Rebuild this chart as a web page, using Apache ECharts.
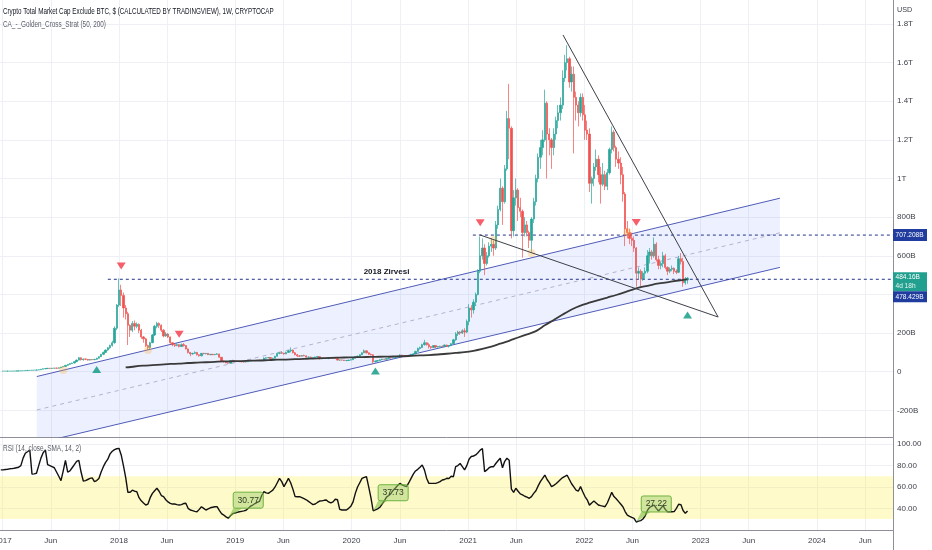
<!DOCTYPE html>
<html><head><meta charset="utf-8">
<script src="https://cdn.jsdelivr.net/npm/echarts@6/dist/echarts.min.js"></script>
<style>html,body{margin:0;padding:0;background:#fff;overflow:hidden}#c{width:932px;height:550px}</style>
</head><body><div id="c"></div><script>
// ---------- DATA (values in billions USD, weekly candles [open, close, low, high]) ----------
const firstWeek = '2017-01-02';
const candles2017 = [[3,3,2,3],[3,3,3,3],[3,3,3,4],[3,3,3,3],[3,3,3,4],[3,4,3,4],[4,4,4,4],[4,4,4,5],[4,5,4,5],[5,5,5,6],
[5,6,5,7],[6,7,6,8],[7,7,6,8],[7,8,7,9],[8,8,7,9],[8,9,8,10],[9,10,9,11],[10,13,10,14],[13,15,13,16],[15,16,14,17],
[16,18,15,19],[18,17,15,19],[17,18,16,19],[18,19,17,20],[19,18,16,20],[18,20,17,21],[20,24,19,25],[24,27,23,28],[27,33,26,34],[33,38,31,39],
[38,42,36,44],[42,45,40,47],[45,52,43,54],[52,60,50,63],[60,72,58,76],[72,62,58,74],[62,66,57,68],[66,64,60,68],[64,60,57,66],[60,63,58,65],
[63,62,59,65],[62,64,60,66],[64,70,62,72],[70,78,68,80],[78,90,76,92],[90,100,86,104],[100,112,97,115],[112,124,108,128],[124,136,118,140],[136,150,130,160],
[150,225,145,235],[225,345,215,350]];
const candles2018 = [[345,423,335,483],[423,395,340,450],[395,330,280,410],[330,300,270,345],[300,240,138,310],[240,215,180,245],[215,250,205,262],[250,235,215,265],[235,245,225,255],[245,215,200,250],
[215,180,170,222],[180,170,150,185],[170,135,128,175],[135,125,112,140],[125,150,118,155],[150,190,148,195],[190,235,185,242],[235,250,225,258],[250,240,225,255],[240,215,205,245],
[215,185,178,220],[185,195,180,205],[195,180,175,200],[180,150,145,182],[150,140,132,152],[140,135,128,145],[135,140,132,148],[140,130,126,144],[130,140,128,146],[140,135,130,148],
[135,118,115,138],[118,100,95,120],[100,92,80,102],[92,95,88,98],[95,100,92,105],[100,88,84,102],[88,82,78,90],[82,95,80,97],[95,93,90,98],[93,95,90,97],
[95,88,86,96],[88,90,86,92],[90,88,86,91],[88,90,86,92],[90,92,88,96],[92,75,72,93],[75,55,50,76],[55,52,47,58],[52,46,44,53],[46,44,42,48],
[44,58,43,60],[58,55,52,62]];
const candles2019 = [[55,54,50,58],[54,52,50,56],[52,53,50,55],[53,51,49,54],[51,50,47,52],[50,52,49,53],[52,55,51,56],[55,58,54,62],[58,57,55,59],[57,58,55,59],
[58,59,57,60],[59,58,57,61],[58,60,57,61],[60,70,59,74],[70,72,68,75],[72,73,70,75],[73,68,65,74],[68,70,67,72],[70,80,69,82],[80,95,78,100],
[95,98,90,100],[98,96,92,104],[96,92,88,98],[92,100,91,104],[100,108,98,112],[108,112,100,126],[112,98,95,115],[98,88,85,102],[88,82,76,92],[82,80,78,86],
[80,84,79,86],[84,82,80,88],[82,75,72,84],[75,76,73,78],[76,72,70,78],[72,74,71,76],[74,76,73,78],[76,78,74,80],[78,66,64,79],[66,68,65,70],
[68,70,66,72],[70,68,66,71],[68,72,65,76],[72,70,68,74],[70,71,69,73],[71,68,66,72],[68,60,58,69],[60,61,56,62],[61,60,58,62],[60,58,56,61],
[58,58,54,60],[58,60,57,62]];
const candles2020 = [[60,62,59,64],[62,70,61,72],[70,78,69,80],[78,80,76,84],[80,88,78,90],[88,98,86,100],[98,108,96,115],[108,98,94,110],[98,90,86,100],[90,88,84,94],
[88,52,42,89],[52,55,48,58],[55,58,53,60],[58,62,56,64],[62,65,60,68],[65,64,62,67],[64,68,63,70],[68,75,66,78],[75,72,68,77],[72,74,70,76],
[74,76,72,78],[76,80,74,82],[80,86,79,90],[86,84,82,88],[84,82,80,86],[82,80,78,84],[80,82,79,84],[82,90,81,92],[90,92,88,94],[92,105,91,108],
[105,120,103,125],[120,125,115,130],[125,140,122,145],[140,150,135,165],[150,140,135,152],[140,130,120,148],[130,125,118,132],[125,135,123,138],[135,128,122,137],[128,130,125,133],
[130,132,127,134],[132,130,128,136],[130,138,128,141],[138,132,128,140],[132,135,125,138],[135,145,132,148],[145,165,142,170],[165,195,160,205],[195,205,185,212],[205,200,190,210],
[200,212,195,220],[212,205,180,225],[205,260,200,270]];
const candles2021 = [[260,330,240,350],[330,320,280,345],[320,360,300,375],[360,400,340,410],[400,520,395,530],[520,600,510,700],[600,640,580,690],[640,560,500,660],[560,600,550,620],[600,650,590,670],
[650,660,620,690],[660,640,600,680],[640,760,630,780],[760,840,740,860],[840,950,830,1000],[950,880,760,960],[880,1050,870,1070],[1050,1310,1040,1350],[1310,1260,1100,1490],[1260,730,690,1270],
[730,900,700,940],[900,940,860,1000],[940,850,780,950],[850,830,800,900],[830,720,590,840],[720,760,700,800],[760,720,700,780],[720,680,640,730],[680,790,620,800],[790,880,770,900],
[880,1000,860,1020],[1000,1110,980,1130],[1110,1160,1050,1200],[1160,1200,1120,1250],[1200,1390,1190,1460],[1390,1230,1000,1400],[1230,1200,1120,1260],[1200,1160,1050,1210],[1160,1230,1120,1260],[1230,1300,1200,1320],
[1300,1340,1260,1380],[1340,1380,1300,1420],[1380,1520,1360,1560],[1520,1600,1500,1640],[1600,1620,1560,1690],[1620,1500,1470,1630],[1500,1540,1450,1580],[1540,1420,1130,1580],[1420,1380,1300,1450],[1380,1340,1270,1400],
[1340,1420,1320,1440],[1420,1330,1300,1440]];
const candles2022 = [[1330,1250,1200,1380],[1250,1230,1200,1300],[1230,975,930,1260],[975,1000,870,1010],[1000,1060,960,1080],[1060,1100,1040,1150],[1100,1020,980,1120],[1020,970,870,1060],[970,1020,960,1080],[1020,960,940,1040],
[960,1030,940,1050],[1030,1150,1020,1160],[1150,1240,1130,1270],[1240,1160,1140,1250],[1160,1100,1060,1170],[1100,1080,1050,1140],[1080,1020,970,1110],[1020,920,880,1060],[920,740,650,930],[740,720,690,780],
[720,690,660,740],[690,680,650,720],[680,640,620,700],[640,510,440,645],[510,520,480,540],[520,480,440,530],[480,510,470,520],[510,520,480,540],[520,600,510,630],[600,620,560,640],
[620,600,580,630],[600,660,590,695],[660,580,570,670],[580,550,530,600],[550,560,530,570],[560,600,540,620],[600,540,530,610],[540,520,500,545],[520,530,510,540],[530,535,520,550],
[535,520,505,540],[520,515,505,530],[515,585,510,600],[585,570,555,614],[570,460,440,590],[460,475,450,490],[475,484,455,490]];

// strategy moving average (black line), one value every 4 weeks starting at week 55
const maStartWeek = 55;
const maStepWeeks = 4;
const maValues = [22,27,31,34,37,40,42,45,47,49,51,53,54,55,57,58,60,62,63,65,66,68,70,72,73,74,75,76,77,78,79,80,
82,84,86,89,93,97,101,108,118,130,145,160,177,193,210,240,268,296,322,342,357,371,384,397,412,428,440,450,458,465,472,478];

// weekly RSI starting the week of 2016-12-26
const rsiFirstWeek = '2016-12-26';
const rsiValues = [76,76,76.3,76.6,77,77.2,77.5,78,78.5,80,
87,91.6,93,94.7,72,72.3,72.8,80,87,92,
94.7,81,80,79,78,74,70,66,75,85,
74,75,78,81,84,85,74,65.6,66,67,
68,68.5,65,66,68,74,79,83,86,91,
93.5,95,95.8,96.2,90,80,69,55,55,57,
56,55.6,50,47,45,43.1,44,50,54,56.5,
58.8,56,52,50.9,48,46,44.7,44,44,43.5,
43.1,43.5,44.5,44.7,40,38.4,37.8,37.2,36.8,39,
41.5,40,38.4,39.5,40.5,41,41.5,41.5,38,35,
33.7,32,30.77,33,35,35.6,36.2,36.8,37.2,37.6,
38.2,40,42,43.1,44.5,45.5,46.5,52,55.6,54.5,
54,55.5,57,60,64,68,65,60.3,64,68,
64,58,51,50.9,50.9,50,49,48,46.5,45,
43.5,44,45.5,46.8,47,47.5,47.8,46,45,46,
48.5,48,39,38.4,38.4,38.4,40,42,46,54,
60,64,68,69,69.6,60,50,37.73,38.5,39.5,
41,44,47,50.5,52,54,57,59,61.5,63.3,
62,61,60.3,64,68,72,75,76.5,78.5,80.6,
76,68,63.4,63.4,63.4,63.4,64,65,66.5,67,
68.1,68,70,69.6,79,80,82,79,76,80,
86,88.5,89,90,92,94.5,96,74.3,76,78,
79,79,82,84.5,86.9,78,84,86.9,85,58,
55,58.8,56,53.5,52.5,51.3,50.5,49.4,51,54,
56.5,61,65,68,71.2,67,64,60.3,61.5,63,
65,67,68.8,70,71,67,63,60,57,56,
60.3,55.5,51,48,43,45,46.8,45,43.1,42.5,
42,41.5,45,50,55,51,49,46.5,44,41.5,
37,33.7,32.5,31.5,30.6,27.22,28,28.5,30,33,
38,41,42,43,40,37.5,40,42.5,39,36.8,
36.8,36.8,37,40,43.8,43.5,38,35.3,37.5];

// drawings
const channelUpper = [['2017-04-18', -25], ['2023-09-07', 898]];
const channelLower = [['2017-04-18', -371], ['2023-09-07', 540]];
const channelMid   = [['2017-04-18', -198], ['2023-09-07', 719]];
const triLineA = [['2021-10-26', 1743], ['2023-02-25', 283]];
const triLineB = [['2021-02-07', 708], ['2023-02-25', 283]];
const peakLevel = 478.429, peakLevelStart = '2017-11-27';
const topLevel = 707.208, topLevelStart = '2021-01-16';
const lastPrice = 484.16;
const buySignals = [['2017-10-23', 12], ['2020-03-16', 4], ['2022-11-21', 293]];
const sellSignals = [['2018-01-08', 547], ['2018-07-09', 194], ['2021-02-08', 771], ['2022-06-13', 772]];
const exitDots = [['2017-07-10', 9], ['2018-04-02', 112], ['2021-03-22', 682], ['2021-07-19', 614], ['2022-05-16', 723]];
const rsiCallouts = [['2018-12-10', 30.77, '30.77'], ['2020-03-09', 37.73, '37.73'], ['2022-06-13', 27.22, '27.22']];
const priceTicks = [-200, 0, 200, 400, 600, 800, 1000, 1200, 1400, 1600, 1800];
const rsiTicks = [40, 60, 80, 100];
const yearTicks = [2017, 2018, 2019, 2020, 2021, 2022, 2023, 2024];
const junTicks = [2017, 2018, 2019, 2020, 2021, 2022, 2023, 2024];
const peakLabel = ['2020-04-20', 516, '2018 Zirvesi'];

// ---------- BUILD ----------
const DAY = 864e5;
const d = s => { const p = s.split('-').map(Number); return Date.UTC(p[0], p[1] - 1, p[2]); };
const week0 = d(firstWeek), rsi0 = d(rsiFirstWeek);
const allCandles = [].concat(candles2017, candles2018, candles2019, candles2020, candles2021, candles2022);
const candleData = allCandles.map((r, i) => [week0 + i * 7 * DAY, r[0], r[1], r[2], r[3]]);
const rsiData = rsiValues.map((v, k) => [rsi0 + k * 7 * DAY, v]);
const maData = maValues.map((v, k) => [week0 + (maStartWeek + k * maStepWeeks) * 7 * DAY, v]);
const pts = a => a.map(p => [d(p[0]), p[1]]);
const xMin = d('2016-12-23') + DAY / 2, xMax = d('2024-08-27');
const timeTicks = yearTicks.map(y => Date.UTC(y, 0, 1)).concat(junTicks.map(y => Date.UTC(y, 5, 1))).sort((a, b) => a - b);
const FONT = '"Liberation Sans","DejaVu Sans",sans-serif';
const GRID = '#eef0f5', AX = '#8d9099', TXT = '#3e414b';
const fmtPrice = v => v === 0 ? '0' : (Math.abs(v) >= 1000 ? (v / 1000) + 'T' : v + 'B');
const fmtTime = v => { const t = new Date(v); return t.getUTCMonth() === 0 ? String(t.getUTCFullYear()) : 'Jun'; };

const chart = echarts.init(document.getElementById('c'), null, { renderer: 'canvas' });
const line2 = (data, color, width, type, z) => ({
  type: 'line', xAxisIndex: 0, yAxisIndex: 0, data: pts(data), symbol: 'none', silent: true, z: z || 4,
  lineStyle: { color: color, width: width, type: type || 'solid' }
});
chart.setOption({
  animation: false,
  backgroundColor: '#fff',
  textStyle: { fontFamily: FONT },
  grid: [
    { left: 0, top: 0, width: 893, height: 437, containLabel: false, outerBoundsMode: 'none' },
    { left: 0, top: 437, width: 893, height: 93, containLabel: false, outerBoundsMode: 'none' }
  ],
  xAxis: [
    { type: 'value', gridIndex: 0, min: xMin, max: xMax, scale: true,
      axisLine: { show: true, onZero: false, lineStyle: { color: AX } }, axisTick: { show: false, customValues: timeTicks },
      axisLabel: { show: false }, splitLine: { show: true, lineStyle: { color: GRID } } },
    { type: 'value', gridIndex: 1, min: xMin, max: xMax, scale: true,
      axisLine: { show: true, onZero: false, lineStyle: { color: AX } }, axisTick: { show: false, customValues: timeTicks },
      axisLabel: { customValues: timeTicks, fontSize: 8, color: TXT, fontFamily: FONT, margin: 7, formatter: fmtTime },
      splitLine: { show: true, lineStyle: { color: GRID } } }
  ],
  yAxis: [
    { type: 'value', gridIndex: 0, position: 'right', min: -338, max: 1924, scale: true,
      axisLine: { show: true, lineStyle: { color: AX } }, axisTick: { show: false, customValues: priceTicks },
      axisLabel: { customValues: priceTicks, fontSize: 8, color: TXT, fontFamily: FONT, margin: 4, formatter: fmtPrice },
      splitLine: { show: true, lineStyle: { color: GRID } } },
    { type: 'value', gridIndex: 1, position: 'right', min: 19.7, max: 106.8, scale: true,
      axisLine: { show: true, lineStyle: { color: AX } }, axisTick: { show: false, customValues: rsiTicks },
      axisLabel: { customValues: rsiTicks, fontSize: 8, color: TXT, fontFamily: FONT, margin: 4, formatter: v => v.toFixed(2) },
      splitLine: { show: true, lineStyle: { color: GRID } } }
  ],
  series: [
    { type: 'custom', xAxisIndex: 0, yAxisIndex: 0, z: 1, silent: true, clip: true, data: [[xMin, 0]],
      renderItem: (params, api) => {
        const poly = [channelUpper[0], channelUpper[1], channelLower[1], channelLower[0]].map(p => api.coord([d(p[0]), p[1]]));
        return { type: 'polygon', shape: { points: poly }, style: { fill: 'rgba(41,98,255,0.085)' } };
      } },
    line2(channelUpper, '#4f5bb8', 1),
    line2(channelLower, '#4f5bb8', 1),
    line2(channelMid, '#b7b2cf', 1, [4, 4]),
    { type: 'line', xAxisIndex: 0, yAxisIndex: 0, data: [[d(peakLevelStart), peakLevel], [xMax, peakLevel]], symbol: 'none', silent: true, z: 4,
      lineStyle: { color: '#26348a', width: 1, type: [3, 3] } },
    { type: 'line', xAxisIndex: 0, yAxisIndex: 0, data: [[d(topLevelStart), topLevel], [xMax, topLevel]], symbol: 'none', silent: true, z: 4,
      lineStyle: { color: '#26348a', width: 1, type: [3, 3] } },
    { type: 'candlestick', xAxisIndex: 0, yAxisIndex: 0, data: candleData, barWidth: 1.8, z: 5,
      itemStyle: { color: '#26a69a', color0: '#ef5350', borderColor: '#26a69a', borderColor0: '#ef5350', borderWidth: 0.7 } },
    { type: 'line', xAxisIndex: 0, yAxisIndex: 0, data: maData, symbol: 'none', smooth: 0.3, z: 6,
      lineStyle: { color: '#3a3a3a', width: 1.8 } },
    line2(triLineA, '#3d4049', 1, 'solid', 7),
    line2(triLineB, '#3d4049', 1, 'solid', 7),
    { type: 'scatter', xAxisIndex: 0, yAxisIndex: 0, data: pts(exitDots), symbol: 'circle', symbolSize: 8, z: 6,
      itemStyle: { color: 'rgba(255,167,38,0.35)' } },
    { type: 'scatter', xAxisIndex: 0, yAxisIndex: 0, data: pts(buySignals), symbol: 'triangle', symbolSize: [9, 7], z: 8,
      itemStyle: { color: '#089981' } },
    { type: 'scatter', xAxisIndex: 0, yAxisIndex: 0, data: pts(sellSignals), symbol: 'triangle', symbolRotate: 180, symbolSize: [9, 7], z: 8,
      itemStyle: { color: '#f23645' } },
    { type: 'line', xAxisIndex: 1, yAxisIndex: 1, data: rsiData, symbol: 'none', z: 5,
      lineStyle: { color: '#111', width: 1.4 },
      markArea: { silent: true, itemStyle: { color: 'rgba(255,235,59,0.27)' }, data: [[{ yAxis: 30 }, { yAxis: 70 }]] } }
  ]
});

// ---------- overlays positioned through the chart's scales ----------
const P = (v) => chart.convertToPixel({ xAxisIndex: 0, yAxisIndex: 0 }, v);
const R = (v) => chart.convertToPixel({ xAxisIndex: 1, yAxisIndex: 1 }, v);
const g = [];
const narrowText = (x, y, text, size, fill, sx, extra) => ({ type: 'text', x: x, y: y, scaleX: sx, z: 50,
  style: Object.assign({ text: text, font: size + 'px ' + FONT, fill: fill, verticalAlign: 'middle' }, extra || {}) });
g.push(narrowText(3, 11, 'Crypto Total Market Cap Exclude BTC, $ (CALCULATED BY TRADINGVIEW), 1W, CRYPTOCAP', 9.5, '#131722', 0.66));
g.push(narrowText(3, 24, 'CA_-_Golden_Cross_Strat (50, 200)', 9.5, '#5d606b', 0.67));
g.push(narrowText(3, 449, 'RSI (14, close, SMA, 14, 2)', 8.5, '#5d606b', 0.76));
g.push(narrowText(897, 10, 'USD', 8, TXT, 0.9));
g.push({ type: 'line', z: 50, shape: { x1: 893.5, y1: 530, x2: 893.5, y2: 550 }, style: { stroke: AX, lineWidth: 1 } });
const pl = P([d(peakLabel[0]), peakLabel[1]]);
g.push({ type: 'text', x: pl[0], y: pl[1], z: 50, style: { text: peakLabel[2], font: 'bold 8px ' + FONT, fill: '#131722', align: 'center', verticalAlign: 'middle' } });
// right price tags
const yTop = P([xMax, topLevel])[1];
g.push({ type: 'rect', z: 60, shape: { x: 893, y: yTop - 6, width: 34, height: 12 }, style: { fill: '#1f3c9e' } });
g.push(Object.assign(narrowText(895.5, yTop, topLevel.toFixed(3) + 'B', 8, '#fff', 0.82), { z: 61 }));
const yLast = P([xMax, lastPrice])[1];
g.push({ type: 'rect', z: 60, shape: { x: 893, y: yLast - 6, width: 34, height: 19 }, style: { fill: '#22a08f' } });
g.push(Object.assign(narrowText(895.5, yLast - 1, lastPrice.toFixed(2) + 'B', 8, '#fff', 0.82), { z: 61 }));
g.push(Object.assign(narrowText(895.5, yLast + 7.5, '4d 18h', 8, '#e8f5f3', 0.82), { z: 61 }));
g.push({ type: 'rect', z: 60, shape: { x: 893, y: yLast + 13, width: 34, height: 11 }, style: { fill: '#1f3c9e' } });
g.push(Object.assign(narrowText(895.5, yLast + 18.5, peakLevel.toFixed(3) + 'B', 8, '#fff', 0.82), { z: 61 }));
// RSI callouts
rsiCallouts.forEach(c => {
  const p = R([d(c[0]), c[1]]);
  g.push({ type: 'polygon', z: 40, shape: { points: [[p[0], p[1]], [p[0] + 5, p[1] - 10], [p[0] + 14, p[1] - 10]] }, style: { fill: 'rgba(124,190,70,0.6)' } });
  g.push({ type: 'rect', z: 41, shape: { x: p[0] + 5, y: p[1] - 26, width: 30, height: 16, r: 2 }, style: { fill: 'rgba(156,204,101,0.45)', stroke: '#6db33f', lineWidth: 1 } });
  g.push({ type: 'text', z: 42, x: p[0] + 20, y: p[1] - 18, style: { text: c[2], font: '8.5px ' + FONT, fill: '#2f3b22', align: 'center', verticalAlign: 'middle' } });
});
chart.setOption({ graphic: g });
</script></body></html>
